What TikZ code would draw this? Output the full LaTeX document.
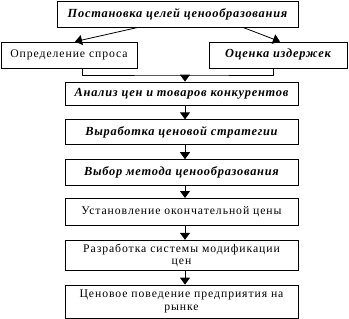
\documentclass[tikz,border=0pt]{standalone}
\usepackage{fontspec}
\setmainfont{Liberation Serif}
\newfontfamily\spacedfont[LetterSpace=8]{Liberation Serif}
\newfontfamily\keyfont[LetterSpace=6]{Liberation Serif}
\usetikzlibrary{positioning, arrows.meta}

\begin{document}
\begin{tikzpicture}[x=1pt, y=1pt,
    stage/.style={draw=black, line width=0.8pt, minimum height=25pt, align=center, inner sep=2pt, font=\spacedfont\fontsize{11.7}{12.5}\selectfont},
    key/.style={stage, font=\keyfont\fontsize{12.4}{14}\selectfont\bfseries\itshape},
    arr/.style={-{Triangle[length=7pt, width=10pt]}, line width=0.8pt}
]
\useasboundingbox (0,0) rectangle (349,-319);

% Top row
\node[key, minimum width=241pt, minimum height=26pt] (goal) at (177.5,-14) {Постановка целей ценообразования};
\node[stage, minimum width=136pt, minimum height=26pt] (demand) at (69,-55) {Определение спроса};
\node[key, minimum width=138pt, minimum height=26pt] (cost) at (278,-55) {Оценка издержек};

% Main column
\node[key, minimum width=233pt, minimum height=23pt] (rival) at (181.5,-93.5) {Анализ цен и товаров конкурентов};
\node[key, minimum width=233pt, below=14pt of rival] (strategy) {Выработка ценовой стратегии};
\node[key, minimum width=233pt, minimum height=26pt, below=14pt of strategy] (method) {Выбор метода ценообразования};
\node[stage, minimum width=233pt, minimum height=27pt, below=12pt of method] (final) {Установление окончательной цены};
\node[stage, minimum width=233pt, minimum height=30pt, below=14pt of final] (modify) {Разработка системы модификации\\цен};
\node[stage, minimum width=233pt, minimum height=33pt, below=14pt of modify] (behave) {Ценовое поведение предприятия на\\рынке};

% Connectors
\draw[arr] (goal.south -| 138,0) -- (demand.north -| 75,0);
\draw[arr] (goal.south -| 243,0) -- (cost.north -| 280,0);
\coordinate (join) at (185,-75);
\draw[line width=0.8pt] (demand.south -| 82,0) |- (join) -| (cost.south -| 273,0);
\draw[arr] (join) -- (rival.north -| join);
\draw[arr] (rival.south -| join) -- (strategy.north -| join);
\draw[arr] (strategy.south -| join) -- (method.north -| join);
\draw[arr] (method.south -| join) -- (final.north -| join);
\draw[arr] (final.south -| join) -- (modify.north -| join);
\draw[arr] (modify.south -| join) -- (behave.north -| join);

\end{tikzpicture}
\end{document}
